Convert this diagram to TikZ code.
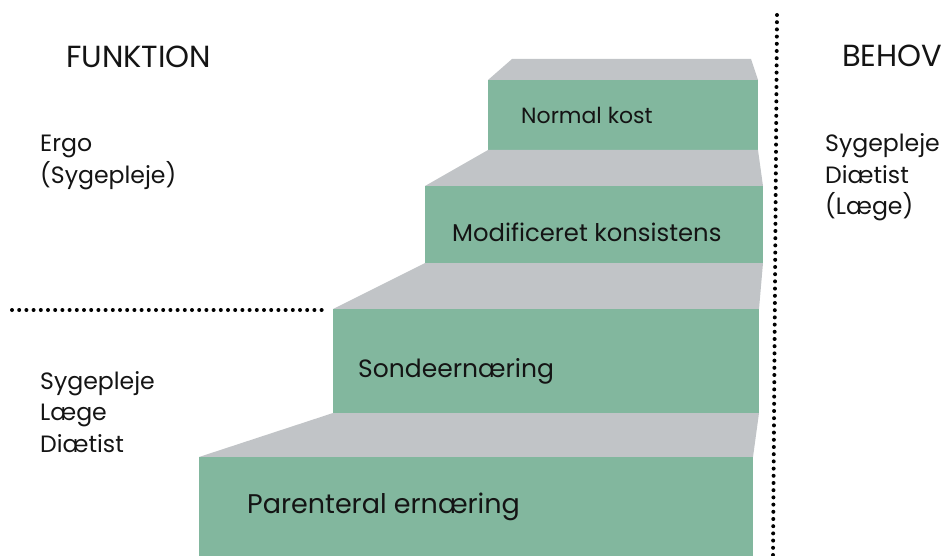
\documentclass[tikz,border=0pt]{standalone}
\usepackage{fontspec}
\setmainfont{Poppins}
\definecolor{stepgreen}{RGB}{130,183,158}
\definecolor{stepgray}{RGB}{193,196,199}
\definecolor{ink}{RGB}{20,20,20}
\begin{document}
\begin{tikzpicture}[x=1pt,y=-1pt,
  lbl/.style={anchor=base west, inner sep=0pt, text=ink},
  head/.style={lbl, font=\fontsize{30.5}{30.5}\selectfont},
  side/.style={lbl, font=\fontsize{23.6}{23.6}\selectfont},
  greenface/.style={fill=stepgreen},
  grayface/.style={fill=stepgray},
  dotline/.style={draw=black, line width=4pt, line cap=round, dash pattern=on 0pt off 7.2pt}]
\useasboundingbox (0,0) rectangle (944,556);
% steps
\fill[grayface] (512,59) -- (751,59) -- (758,80) -- (488,80) -- cycle;
\fill[greenface] (488,80) rectangle (758,150);
\fill[grayface] (488,150) -- (758,150) -- (763,186) -- (425,186) -- cycle;
\fill[greenface] (425,186) rectangle (763,263);
\fill[grayface] (425,263) -- (763,263) -- (759,309) -- (333,309) -- cycle;
\fill[greenface] (333,309) rectangle (759,413);
\fill[grayface] (333,413) -- (759,413) -- (753,457) -- (199,457) -- cycle;
\fill[greenface] (199,457) rectangle (753,556);
% step labels
\node[lbl, font=\fontsize{22}{22}\selectfont] (s1) at (521,124) {Normal kost};
\node[lbl, font=\fontsize{24.3}{24.3}\selectfont] (s2) at (452,241) {Modificeret konsistens};
\node[lbl, font=\fontsize{25}{25}\selectfont] (s3) at (358,377) {Sondeernæring};
\node[lbl, font=\fontsize{27}{27}\selectfont] (s4) at (247,513) {Parenteral ernæring};
% dotted lines
\coordinate (vt) at (777,15);
\coordinate (vb) at (773,556);
\coordinate (hl) at (12,310);
\coordinate (hr) at (323,310);
\draw[dotline] (vt) -- (vb);
\draw[dotline] (hl) -- (hr);
% headings
\node[head] (funk) at (66,68) {FUNKTION};
\node[head] (behov) at (842,67) {BEHOV};
% left labels
\node[side] (l1) at (40,152) {Ergo};
\node[side] (l2) at (40,183) {(Sygepleje)};
\node[side] (l3) at (40,389) {Sygepleje};
\node[side] (l4) at (40,420) {Læge};
\node[side] (l5) at (40,452) {Diætist};
% right labels
\node[side] (r1) at (825,152) {Sygepleje};
\node[side] (r2) at (825,183) {Diætist};
\node[side] (r3) at (825,214) {(Læge)};
\end{tikzpicture}
\end{document}
